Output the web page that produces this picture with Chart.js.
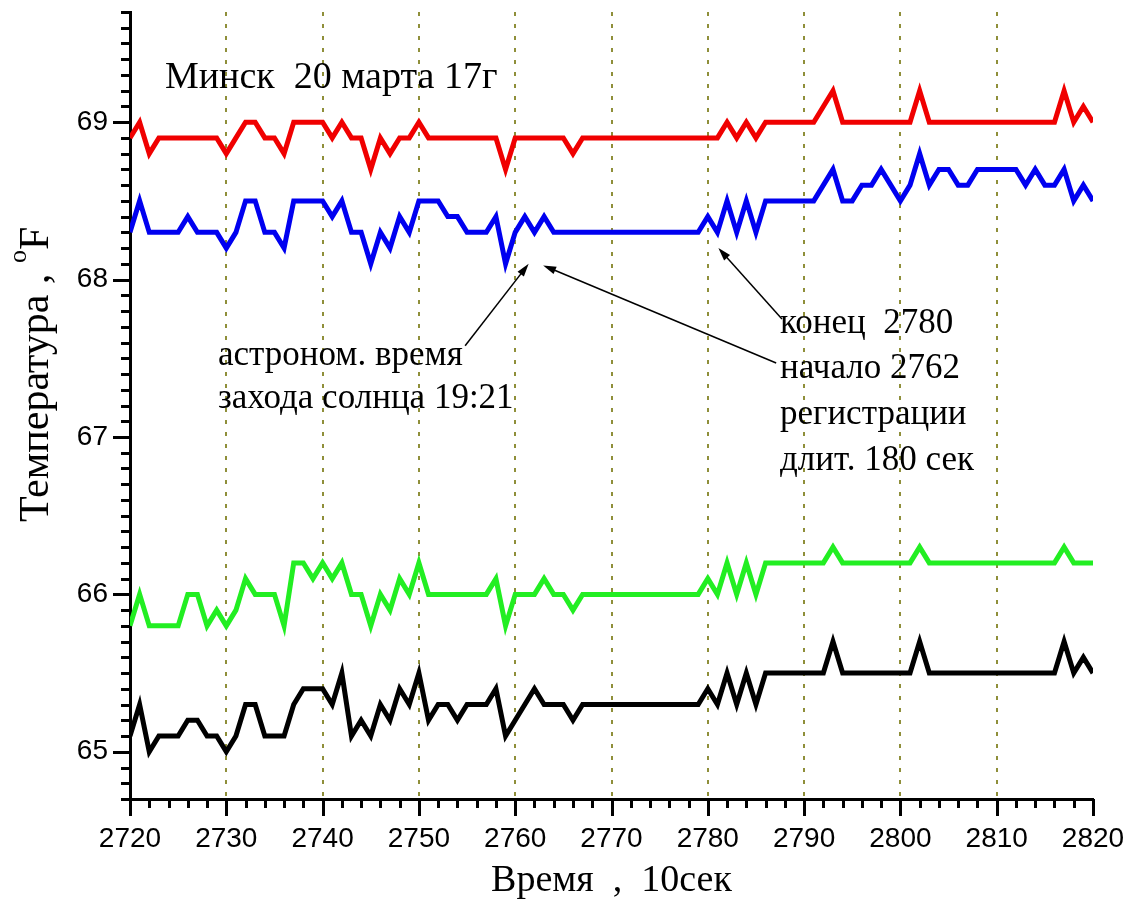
<!DOCTYPE html>
<html>
<head>
<meta charset="utf-8">
<script src="https://cdn.jsdelivr.net/npm/chart.js@4/dist/chart.umd.min.js"></script>
<style>
  body { margin: 0; background: #fff; }
</style>
</head>
<body>
<canvas id="tempChart" width="1127" height="900"></canvas>
<script>
// time axis, 10 s steps
const times = Array.from({ length: 101 }, (_, i) => 2720 + i);

const redTemp = [
  68.9, 69.0, 68.8, 68.9, 68.9, 68.9, 68.9, 68.9, 68.9, 68.9,
  68.8, 68.9, 69.0, 69.0, 68.9, 68.9, 68.8, 69.0, 69.0, 69.0,
  69.0, 68.9, 69.0, 68.9, 68.9, 68.7, 68.9, 68.8, 68.9, 68.9,
  69.0, 68.9, 68.9, 68.9, 68.9, 68.9, 68.9, 68.9, 68.9, 68.7,
  68.9, 68.9, 68.9, 68.9, 68.9, 68.9, 68.8, 68.9, 68.9, 68.9,
  68.9, 68.9, 68.9, 68.9, 68.9, 68.9, 68.9, 68.9, 68.9, 68.9,
  68.9, 68.9, 69.0, 68.9, 69.0, 68.9, 69.0, 69.0, 69.0, 69.0,
  69.0, 69.0, 69.1, 69.2, 69.0, 69.0, 69.0, 69.0, 69.0, 69.0,
  69.0, 69.0, 69.2, 69.0, 69.0, 69.0, 69.0, 69.0, 69.0, 69.0,
  69.0, 69.0, 69.0, 69.0, 69.0, 69.0, 69.0, 69.2, 69.0, 69.1,
  69.0
];
const blueTemp = [
  68.3, 68.5, 68.3, 68.3, 68.3, 68.3, 68.4, 68.3, 68.3, 68.3,
  68.2, 68.3, 68.5, 68.5, 68.3, 68.3, 68.2, 68.5, 68.5, 68.5,
  68.5, 68.4, 68.5, 68.3, 68.3, 68.1, 68.3, 68.2, 68.4, 68.3,
  68.5, 68.5, 68.5, 68.4, 68.4, 68.3, 68.3, 68.3, 68.4, 68.1,
  68.3, 68.4, 68.3, 68.4, 68.3, 68.3, 68.3, 68.3, 68.3, 68.3,
  68.3, 68.3, 68.3, 68.3, 68.3, 68.3, 68.3, 68.3, 68.3, 68.3,
  68.4, 68.3, 68.5, 68.3, 68.5, 68.3, 68.5, 68.5, 68.5, 68.5,
  68.5, 68.5, 68.6, 68.7, 68.5, 68.5, 68.6, 68.6, 68.7, 68.6,
  68.5, 68.6, 68.8, 68.6, 68.7, 68.7, 68.6, 68.6, 68.7, 68.7,
  68.7, 68.7, 68.7, 68.6, 68.7, 68.6, 68.6, 68.7, 68.5, 68.6,
  68.5
];
const greenTemp = [
  65.8, 66.0, 65.8, 65.8, 65.8, 65.8, 66.0, 66.0, 65.8, 65.9,
  65.8, 65.9, 66.1, 66.0, 66.0, 66.0, 65.8, 66.2, 66.2, 66.1,
  66.2, 66.1, 66.2, 66.0, 66.0, 65.8, 66.0, 65.9, 66.1, 66.0,
  66.2, 66.0, 66.0, 66.0, 66.0, 66.0, 66.0, 66.0, 66.1, 65.8,
  66.0, 66.0, 66.0, 66.1, 66.0, 66.0, 65.9, 66.0, 66.0, 66.0,
  66.0, 66.0, 66.0, 66.0, 66.0, 66.0, 66.0, 66.0, 66.0, 66.0,
  66.1, 66.0, 66.2, 66.0, 66.2, 66.0, 66.2, 66.2, 66.2, 66.2,
  66.2, 66.2, 66.2, 66.3, 66.2, 66.2, 66.2, 66.2, 66.2, 66.2,
  66.2, 66.2, 66.3, 66.2, 66.2, 66.2, 66.2, 66.2, 66.2, 66.2,
  66.2, 66.2, 66.2, 66.2, 66.2, 66.2, 66.2, 66.3, 66.2, 66.2,
  66.2
];
const blackTemp = [
  65.1, 65.3, 65.0, 65.1, 65.1, 65.1, 65.2, 65.2, 65.1, 65.1,
  65.0, 65.1, 65.3, 65.3, 65.1, 65.1, 65.1, 65.3, 65.4, 65.4,
  65.4, 65.3, 65.5, 65.1, 65.2, 65.1, 65.3, 65.2, 65.4, 65.3,
  65.5, 65.2, 65.3, 65.3, 65.2, 65.3, 65.3, 65.3, 65.4, 65.1,
  65.2, 65.3, 65.4, 65.3, 65.3, 65.3, 65.2, 65.3, 65.3, 65.3,
  65.3, 65.3, 65.3, 65.3, 65.3, 65.3, 65.3, 65.3, 65.3, 65.3,
  65.4, 65.3, 65.5, 65.3, 65.5, 65.3, 65.5, 65.5, 65.5, 65.5,
  65.5, 65.5, 65.5, 65.7, 65.5, 65.5, 65.5, 65.5, 65.5, 65.5,
  65.5, 65.5, 65.7, 65.5, 65.5, 65.5, 65.5, 65.5, 65.5, 65.5,
  65.5, 65.5, 65.5, 65.5, 65.5, 65.5, 65.5, 65.7, 65.5, 65.6,
  65.5
];

const xTicks = [2720, 2730, 2740, 2750, 2760, 2770, 2780, 2790, 2800, 2810, 2820];
const yTicks = [65, 66, 67, 68, 69];

const SERIF = '"Liberation Serif", "Times New Roman", serif';
const SANS = '"Liberation Sans", Arial, sans-serif';

// arrows: [tailX, tailY, headX, headY] in axis units
const arrows = [
  [2754.8, 67.58, 2761.4, 68.10],
  [2787.1, 67.47, 2762.9, 68.09],
  [2787.7, 67.75, 2781.1, 68.20]
];

const toPoints = (vals) => vals.map((v, i) => ({ x: times[i], y: v }));

// minor/major tick marks, y title, notes and arrows
const decorations = {
  id: 'decorations',
  afterDraw(chart) {
    const { ctx, scales: { x, y } } = chart;
    const area = chart.chartArea;
    ctx.save();
    ctx.strokeStyle = '#000';
    ctx.lineWidth = 3;
    ctx.beginPath();
    for (let v = 2720; v <= 2820; v += 2) {
      const px = Math.round(x.getPixelForValue(v)) + 0.5;
      const len = v % 10 === 0 ? 17 : 9;
      ctx.moveTo(px, area.bottom);
      ctx.lineTo(px, area.bottom + len);
    }
    for (let k = 647; k <= 697; k++) {
      const py = Math.round(y.getPixelForValue(k / 10)) + 0.5;
      const len = k % 10 === 0 ? 17 : 9;
      ctx.moveTo(area.left, py);
      ctx.lineTo(area.left - len, py);
    }
    ctx.stroke();

    ctx.fillStyle = '#000';
    ctx.textBaseline = 'alphabetic';
    ctx.textAlign = 'left';

    // y axis title with superscript degree
    ctx.save();
    ctx.translate(48, 522);
    ctx.rotate(-Math.PI / 2);
    ctx.font = '42px ' + SERIF;
    const head = 'Температура , ';
    ctx.fillText(head, 0, 0);
    let w = ctx.measureText(head).width;
    ctx.font = '26px ' + SERIF;
    ctx.fillText('o', w, -22);
    w += ctx.measureText('o').width;
    ctx.font = '42px ' + SERIF;
    ctx.fillText('F', w, 0);
    ctx.restore();

    ctx.font = '38px ' + SERIF;
    ctx.fillText('Минск  20 марта 17г', 165, 88);

    ctx.font = '35px ' + SERIF;
    ctx.fillText('астроном. время', 218, 365);
    ctx.fillText('захода солнца 19:21', 218, 408);
    ctx.fillText('конец  2780', 780, 333);
    ctx.fillText('начало 2762', 780, 378);
    ctx.fillText('регистрации', 780, 424);
    ctx.fillText('длит. 180 сек', 780, 470);

    ctx.lineWidth = 1.5;
    arrows.forEach(([tx, ty, hx, hy]) => {
      const x1 = x.getPixelForValue(tx), y1 = y.getPixelForValue(ty);
      const x2 = x.getPixelForValue(hx), y2 = y.getPixelForValue(hy);
      const a = Math.atan2(y2 - y1, x2 - x1);
      ctx.beginPath();
      ctx.moveTo(x1, y1);
      ctx.lineTo(x2 - 8 * Math.cos(a), y2 - 8 * Math.sin(a));
      ctx.stroke();
      ctx.beginPath();
      ctx.moveTo(x2, y2);
      ctx.lineTo(x2 - 13 * Math.cos(a) + 4 * Math.sin(a), y2 - 13 * Math.sin(a) - 4 * Math.cos(a));
      ctx.lineTo(x2 - 13 * Math.cos(a) - 4 * Math.sin(a), y2 - 13 * Math.sin(a) + 4 * Math.cos(a));
      ctx.closePath();
      ctx.fill();
    });
    ctx.restore();
  }
};

const line = (data, color) => ({
  data: toPoints(data),
  borderColor: color,
  borderWidth: 5,
  pointRadius: 0,
  tension: 0,
  fill: false
});

const tempChart = new Chart(document.getElementById('tempChart'), {
  type: 'line',
  data: {
    datasets: [
      line(redTemp, '#f00000'),
      line(blueTemp, '#0000f0'),
      line(greenTemp, '#22ee22'),
      line(blackTemp, '#000000')
    ]
  },
  options: {
    responsive: false,
    animation: false,
    layout: { padding: { top: 12, right: 34, left: 0, bottom: 0 } },
    plugins: { legend: { display: false }, tooltip: { enabled: false } },
    scales: {
      x: {
        type: 'linear',
        min: 2720,
        max: 2820,
        afterBuildTicks: (s) => { s.ticks = xTicks.map(v => ({ value: v })); },
        afterFit: (s) => { s.height = 101; s.paddingLeft = 0; s.paddingRight = 0; },
        grid: {
          drawTicks: false,
          lineWidth: 2,
          color: (c) => (c.tick && (c.tick.value === 2720 || c.tick.value === 2820)) ? 'rgba(0,0,0,0)' : '#8f8f3a'
        },
        border: { color: '#000', width: 3, dash: [4, 8] },
        ticks: {
          padding: 23,
          color: '#000',
          maxRotation: 0,
          autoSkip: false,
          font: { family: SANS, size: 28 },
          callback: (v) => String(v)
        },
        title: {
          display: true,
          text: 'Время  ,  10сек',
          color: '#000',
          padding: 0,
          font: { family: SERIF, size: 38, lineHeight: 1 }
        }
      },
      y: {
        min: 64.7,
        max: 69.7,
        afterBuildTicks: (s) => { s.ticks = yTicks.map(v => ({ value: v })); },
        afterFit: (s) => { s.width = 130; s.paddingTop = 0; s.paddingBottom = 0; },
        grid: { display: false, drawTicks: false },
        border: { color: '#000', width: 3 },
        ticks: {
          padding: 22,
          color: '#000',
          font: { family: SANS, size: 28 },
          callback: (v) => String(v)
        }
      }
    }
  },
  plugins: [decorations]
});
</script>
</body>
</html>
